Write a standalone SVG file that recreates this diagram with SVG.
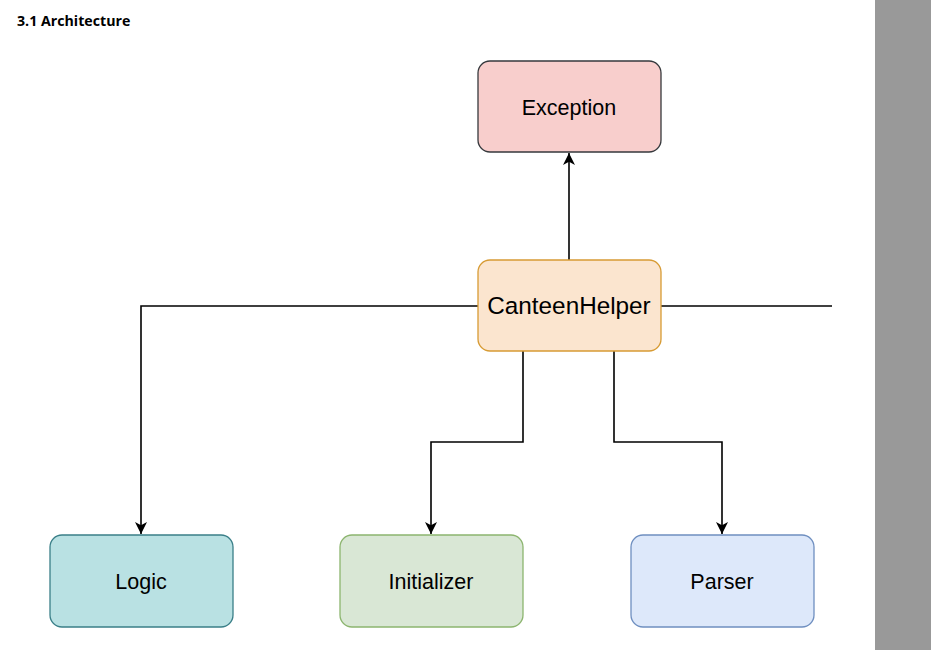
<svg xmlns="http://www.w3.org/2000/svg" width="931" height="650" viewBox="0 0 931 650">
  <style>
    .title { font-family: "Open Sans", "Noto Sans", sans-serif; font-weight: bold; font-size: 14.2px; fill: #000; }
    .label { font-family: "Liberation Sans", Arial, sans-serif; font-size: 21.5px; fill: #000; text-anchor: middle; dominant-baseline: central; }
    .box { stroke-width: 1.3; }
    .wire { fill: none; stroke: #000; stroke-width: 1.6; }
  </style>
  <defs>
    <marker id="arrow" viewBox="0 0 13 13" refX="12" refY="6.5" markerWidth="13" markerHeight="13" markerUnits="userSpaceOnUse" orient="auto">
      <path d="M0,0.5 L12,6.5 L0,12.5 L3.2,6.5 Z" fill="#000"/>
    </marker>
  </defs>

  <rect x="0" y="0" width="931" height="650" fill="#fff"/>
  <rect x="875" y="0" width="56" height="650" fill="#999"/>

  <text class="title" x="17" y="26">3.1 Architecture</text>

  <g id="connectors">
    <path class="wire" d="M569,260 V153" marker-end="url(#arrow)"/>
    <path class="wire" d="M478,306 H141 V534" marker-end="url(#arrow)"/>
    <path class="wire" d="M661,306 H832"/>
    <path class="wire" d="M523,351 V442 H431 V534" marker-end="url(#arrow)"/>
    <path class="wire" d="M614,351 V442 H722 V534" marker-end="url(#arrow)" stroke-width="2"/>
  </g>

  <g id="exception">
    <rect class="box" x="478" y="61" width="183" height="91" rx="12" fill="#f8cecc" stroke="#36393d"/>
    <text class="label" x="569" y="108">Exception</text>
  </g>

  <g id="canteenhelper">
    <rect class="box" x="478" y="260" width="183" height="91" rx="12" fill="#fbe5cf" stroke="#d79b34"/>
    <text class="label" x="569" y="305" style="font-size:24.3px">CanteenHelper</text>
  </g>

  <g id="logic">
    <rect class="box" x="50" y="535" width="183" height="92" rx="12" fill="#b9e1e3" stroke="#3a7f88"/>
    <text class="label" x="141" y="582">Logic</text>
  </g>

  <g id="initializer">
    <rect class="box" x="340" y="535" width="183" height="92" rx="12" fill="#d9e7d5" stroke="#8cb56f"/>
    <text class="label" x="431" y="582">Initializer</text>
  </g>

  <g id="parser">
    <rect class="box" x="631" y="535" width="183" height="92" rx="12" fill="#dde8fa" stroke="#6f8fc0"/>
    <text class="label" x="722" y="582">Parser</text>
  </g>
</svg>
